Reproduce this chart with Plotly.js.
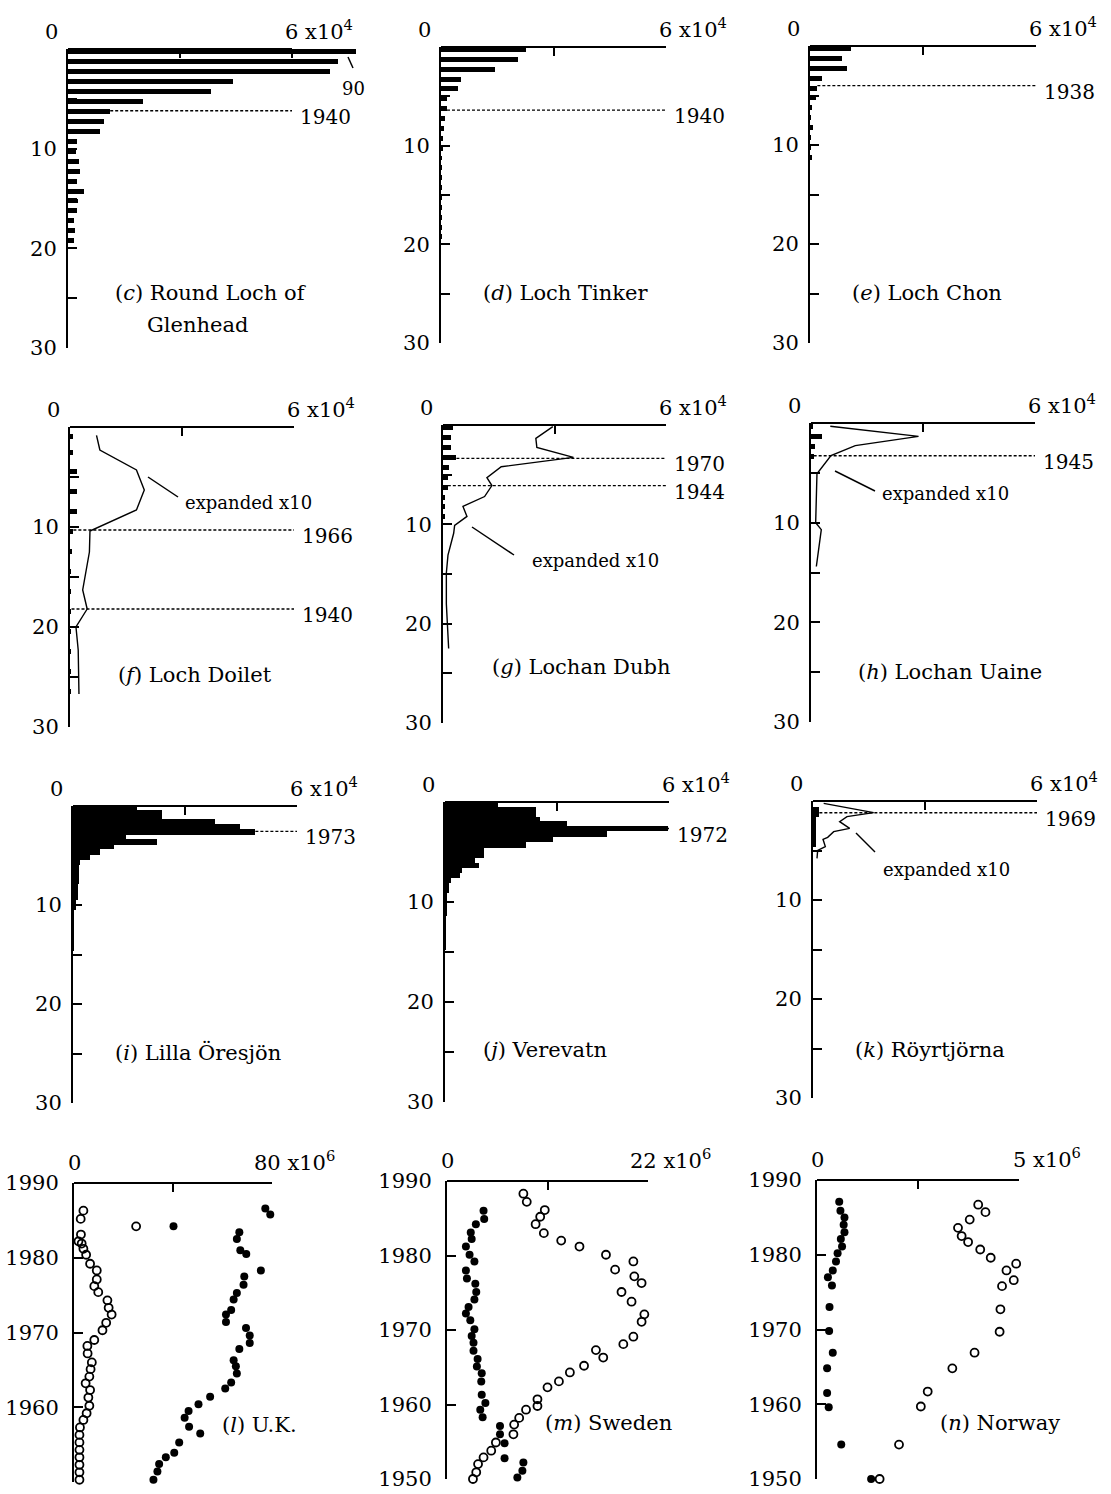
<!DOCTYPE html>
<html>
<head>
<meta charset="utf-8">
<script src="https://cdn.plot.ly/plotly-3.0.1.min.js"></script>
<style>
html,body{margin:0;padding:0;background:#ffffff;}
#chart{width:1111px;height:1494px;}
</style>
</head>
<body>
<div id="chart"></div>
<script>
// ===================== DATA =====================
// Depth profiles: sample top depth (cm) and concentration (x-axis units, 0..6x10^4)

// (c) Round Loch of Glenhead
const cTop  = [0,1,2,3,4,5,6,7,8,9,10,11,12,13,14,15,16,17,18,19];
const cConc = [77200,72300,70100,44200,38200,20100,11300,9600,8500,2400,2100,2900,3100,2400,4200,2700,2500,1500,1800,1500];
const cDateDepth = [6.2];
const cDateYear  = ['1940'];

// (d) Loch Tinker
const dTop  = [0,1,2,3,4,5,6,7,8,9,10,11,12,13,14,15,16,17,18,19];
const dConc = [22700,20400,14500,5200,4500,1600,1600,1000,700,500,450,350,200,150,150,150,150,150,150,150];
const dDateDepth = [6.4];
const dDateYear  = ['1940'];

// (e) Loch Chon
const eTop  = [0,1,2,3,4,5,6,7,8,9,10,11];
const eConc = [10800,8600,9900,3100,1950,1600,600,200,900,200,150,450];
const eDateDepth = [4.0];
const eDateYear  = ['1938'];

// (f) Loch Doilet
const fTop  = [0.7,2.3,4.2,6.2,8.2,10.2,12.2,14.2,16.2,18.2,20.2,22.2,24.2,26.2];
const fConc = [700,700,2000,2000,2000,900,500,400,400,400,300,300,300,300];
const fLineDepth = [0.83,2.3,4.3,6.3,8.3,10.4,12.5,16.3,18.2,20.0,22.3,26.7];
const fLineConc  = [710,800,1780,1990,1780,535,520,340,460,160,220,240];
const fDateDepth = [10.3,18.2];
const fDateYear  = ['1966','1940'];

// (g) Lochan Dubh
const gTop  = [0,1,2,3,4,5,6,7,8,9];
const gConc = [2700,2200,2200,3600,1600,1300,1300,600,600,450];
const gLineDepth = [0.17,1.34,2.25,3.26,4.2,5.3,6.1,7.2,8.2,9.2,10.1,10.9,13.1,14.9,18.0,22.5];
const gLineConc  = [2955,2498,2525,3510,1567,1182,1316,1119,537,645,313,287,134,90,90,152];
const gDateDepth = [3.36,6.1];
const gDateYear  = ['1970','1944'];

// (h) Lochan Uaine
const hTop  = [0.1,1.1,2.1,3.1];
const hConc = [535,2940,1160,713];
const hLineDepth = [0.33,1.34,2.27,3.28,5.1,10.0,10.7,14.4];
const hLineConc  = [517,2880,1186,535,160,125,276,143];
const hDateDepth = [3.28];
const hDateYear  = ['1945'];

// (i) Lilla Öresjön (contiguous slices: edges in cm)
const iEdges = [0,0.44,1.35,1.85,2.36,2.96,3.37,3.9,4.38,4.98,5.49,6.0,7.85,9.5,10.5,11.9,14.6];
const iConc  = [17150,23840,38130,44830,48850,14290,22500,10900,7140,4640,1960,1520,1250,890,360,180];
const iDateDepth = [2.56];
const iDateYear  = ['1973'];

// (j) Verevatn
const jEdges = [0,0.5,1.5,1.93,2.43,2.87,3.53,4.03,4.6,5.6,6.1,6.6,7.1,7.6,8.1,9.1,11.43,14.77];
const jConc  = [14100,24300,25450,32600,59650,43300,28840,21600,10540,8040,9200,4470,4020,1600,1070,450,270];
const jDateDepth = [2.65];
const jDateYear  = ['1972'];

// (k) Röyrtjörna
const kEdges = [0.57,1.58,4.6];
const kConc  = [1700,890];
const kLineDepth = [0.24,0.74,1.18,1.58,2.09,2.76,3.1,3.67,3.87,4.6,5.0,5.8];
const kLineConc  = [286,1000,1625,910,714,982,554,393,268,330,125,107];
const kDateDepth = [1.18];
const kDateYear  = ['1969'];

// Emission histories (x10^6) by year
// (l) U.K.
const ukOpenYear = [1986.3,1985.2,1984.2,1983.1,1982.2,1981.9,1981.2,1980.4,1979.2,1978.3,1977.1,1976.2,1975.4,1974.3,1973.3,1972.4,1971.3,1970.3,1969.0,1968.2,1967.2,1966.0,1965.1,1964.1,1963.2,1962.3,1961.3,1960.2,1959.2,1958.3,1957.3,1956.3,1955.3,1954.3,1953.3,1952.3,1951.3,1950.3];
const ukOpen     = [3.8,2.7,25.1,2.8,1.8,3.1,3.8,4.9,6.5,9.2,9.2,8.2,9.8,13.5,14.0,15.2,13.0,11.5,8.2,5.4,5.5,7.2,6.7,6.2,4.7,6.5,5.8,6.2,5.1,3.8,2.4,2.2,2.2,2.2,2.2,2.2,2.2,2.2];
const ukFilledYear = [1986.6,1985.8,1984.2,1983.4,1982.5,1981.0,1980.5,1979.7,1978.3,1977.5,1976.4,1975.3,1974.4,1973.0,1972.4,1971.4,1970.6,1969.6,1968.6,1967.8,1966.3,1965.5,1964.5,1963.3,1962.5,1961.4,1960.4,1959.5,1958.6,1957.4,1956.5,1955.3,1953.9,1953.3,1952.4,1951.4,1950.3];
const ukFilled     = [77.3,79.3,40.2,66.8,65.8,67.2,69.6,80.3,75.5,68.8,68.5,65.8,64.5,63.5,61.4,61.4,69.5,71.0,71.0,66.8,64.5,65.4,65.8,63.5,61.1,55.0,50.3,46.3,44.7,46.5,51.0,42.5,40.5,37.1,34.4,33.7,32.1];

// (m) Sweden
const seFilledYear = [1986.0,1984.9,1984.2,1983.1,1982.2,1981.2,1980.1,1979.2,1978.0,1976.9,1976.2,1975.1,1974.1,1973.1,1972.2,1971.3,1970.1,1969.2,1968.3,1967.2,1966.1,1965.1,1964.2,1963.1,1961.3,1960.2,1959.3,1958.3,1957.1,1956.0,1954.8,1952.8,1952.2,1951.1,1950.2];
const seFilled     = [4.0,4.07,3.16,2.6,2.7,2.07,2.47,3.0,2.07,2.18,3.1,3.2,3.0,2.36,2.07,2.55,3.0,2.7,2.9,2.9,3.35,3.27,3.8,3.75,3.8,4.2,3.64,3.9,5.8,5.8,6.3,6.3,8.36,8.25,7.7];
const seOpenYear = [1988.3,1987.2,1986.1,1985.2,1984.2,1983.0,1982.0,1981.2,1980.1,1979.2,1978.1,1977.2,1976.3,1975.1,1973.8,1973.3,1972.1,1971.1,1970.1,1969.1,1968.1,1967.3,1966.3,1965.2,1964.3,1963.1,1962.3,1960.7,1959.8,1959.3,1958.2,1957.3,1956.0,1954.9,1953.8,1952.9,1952.0,1950.9,1950.0];
const seOpen     = [8.36,8.73,10.7,10.2,9.7,10.6,12.5,14.5,17.4,20.4,18.4,20.5,21.3,19.1,20.2,22.2,21.6,21.3,23.2,20.4,19.3,16.3,17.1,15.0,13.45,12.25,11.0,9.9,9.9,8.65,7.9,7.35,7.27,5.35,4.84,4.0,3.4,3.2,2.84];

// (n) Norway
const noFilledYear = [1987.1,1985.9,1985.0,1984.0,1983.0,1982.1,1981.1,1980.2,1979.1,1977.9,1977.0,1975.9,1973.0,1969.8,1966.9,1964.8,1961.5,1959.6,1954.6,1950.0];
const noFilled     = [0.55,0.58,0.68,0.66,0.68,0.59,0.62,0.51,0.47,0.39,0.27,0.37,0.31,0.30,0.39,0.25,0.25,0.29,0.60,1.34];
const noOpenYear = [1986.7,1985.7,1984.7,1983.6,1982.5,1981.7,1980.7,1979.6,1978.8,1977.9,1976.6,1975.8,1972.7,1969.7,1966.9,1964.8,1961.7,1959.7,1954.6,1950.0];
const noOpen     = [3.99,4.17,3.78,3.49,3.58,3.74,4.04,4.30,4.93,4.69,4.87,4.58,4.54,4.52,3.90,3.35,2.74,2.57,2.03,1.55];

// Axis ticks
const depthLabelVals = [10,20,30];
const depthLabelText = ['10','20','30'];
const depthMinorVals = [0,5,15,25];
const yearTickVals  = [1950,1960,1970,1980,1990];
const yearTickText  = ['1950','1960','1970','1980','1990'];

// ===================== BUILD =====================
const W = 1111, H = 1494;
const FONT = "DejaVu Serif, Liberation Serif, serif";
const BLACK = '#000000';
const BAR_T = 0.5;     // drawn slice thickness (cm)
const EXPAND = 10;     // "expanded x10" curves
const XMAX = 60000;

const data = [];
const annotations = [];
const shapes = [];
const layout = {
  width: W, height: H,
  margin: {l:0, r:0, t:0, b:0},
  paper_bgcolor: '#ffffff', plot_bgcolor: 'rgba(0,0,0,0)',
  showlegend: false, hovermode: false,
  font: {family: FONT, color: BLACK, size: 21},
  bargap: 0
};

function aid(s){ return s === 1 ? '' : String(s); }
const px = x => x / W;
const py = y => 1 - y / H;
const TICK = {ticks:'inside', ticklen:9, tickwidth:2, tickcolor:BLACK};

// box = [left px, right px (at axis max), top px, bottom px]; xr = displayed range max
function axes(s, box, axMax, xr, yAxis) {
  const id = aid(s);
  const right = box[0] + (box[1] - box[0]) * (xr / axMax);
  layout['xaxis'+id] = Object.assign({}, TICK, {
    domain:[px(box[0]), px(right)], range:[0, xr], side:'top', anchor:'y'+id,
    tickvals:[0, axMax/2, axMax], showticklabels:false, showline:false,
    showgrid:false, zeroline:false, fixedrange:true
  });
  layout['yaxis'+id] = Object.assign({}, TICK, {
    domain:[py(box[3]), py(box[2])], side:'left', anchor:'x'+id,
    showline:true, linewidth:2, linecolor:BLACK,
    showgrid:false, zeroline:false, fixedrange:true,
    tickfont:{family:FONT, size:21, color:BLACK}
  }, yAxis);
  // top axis line from 0 to the axis maximum
  shapes.push({type:'line', xref:'x'+id, yref:'y'+id+' domain', x0:0, x1:axMax, y0:1, y1:1,
    line:{color:BLACK, width:2}});
}

function cornerLabels(s, axMax, maxText, maxShift, zeroCentered, yshift) {
  const id = aid(s);
  annotations.push({xref:'x'+id, yref:'y'+id+' domain', x:0, y:1,
    text:'0', showarrow:false, xanchor: zeroCentered ? 'center' : 'right', yanchor:'bottom',
    xshift: zeroCentered ? 0 : -8, yshift:yshift, font:{family:FONT, size:21, color:BLACK}});
  annotations.push({xref:'x'+id, yref:'y'+id+' domain', x:axMax, y:1,
    text:maxText, showarrow:false, xanchor:'left', yanchor:'bottom',
    xshift:maxShift, yshift:yshift, font:{family:FONT, size:21, color:BLACK}});
}

function depthPanel(s, box, xr, tops, bots, conc, lineDepth, lineConc, dateDepth, dateYear) {
  const id = aid(s);
  axes(s, box, XMAX, xr, {
    range:[30, 0], tickvals:depthLabelVals, ticktext:depthLabelText, ticklabelstandoff:5,
    minor:Object.assign({}, TICK, {tickvals:depthMinorVals, showgrid:false})
  });
  cornerLabels(s, XMAX, '6 x10<sup>4</sup>', -9, false, 3);
  // dotted date horizons, from the end of the slice they fall in out to 6x10^4
  dateDepth.forEach((d, k) => {
    let from = 0;
    tops.forEach((t, b) => { if (d >= t - 0.02 && d <= bots[b] + 0.02) from = Math.max(from, conc[b]); });
    data.push({type:'scatter', mode:'lines', x:[from, XMAX], y:[d, d],
      xaxis:'x'+id, yaxis:'y'+id, line:{color:BLACK, width:1.4, dash:'3px,2px'},
      hoverinfo:'skip'});
    annotations.push({xref:'x'+id, yref:'y'+id, x:XMAX, y:d, text:dateYear[k],
      showarrow:false, xanchor:'left', yanchor:'middle', xshift:6, yshift:-6,
      font:{family:FONT, size:20, color:BLACK}});
  });
  data.push({type:'bar', orientation:'h', x:conc,
    y:tops.map((t, b) => (t + bots[b]) / 2), width:tops.map((t, b) => bots[b] - t),
    base:0, xaxis:'x'+id, yaxis:'y'+id,
    marker:{color:BLACK, line:{width:0}}, hoverinfo:'skip'});
  if (lineDepth) {
    data.push({type:'scatter', mode:'lines', x:lineConc.map(v => v * EXPAND), y:lineDepth,
      xaxis:'x'+id, yaxis:'y'+id, line:{color:BLACK, width:1.4}, hoverinfo:'skip'});
  }
}

function yearPanel(s, box, xmax, maxText, maxShift, openY, openX, fillY, fillX) {
  const id = aid(s);
  axes(s, box, xmax, xmax, {
    range:[1950, 1990], tickvals:yearTickVals, ticktext:yearTickText, ticklabelstandoff:9
  });
  cornerLabels(s, xmax, maxText, maxShift, true, 6);
  data.push({type:'scatter', mode:'markers', x:openX, y:openY, xaxis:'x'+id, yaxis:'y'+id,
    marker:{symbol:'circle-open', size:8, color:BLACK, line:{width:1.8, color:BLACK}},
    hoverinfo:'skip', cliponaxis:false});
  data.push({type:'scatter', mode:'markers', x:fillX, y:fillY, xaxis:'x'+id, yaxis:'y'+id,
    marker:{symbol:'circle', size:8, color:BLACK}, hoverinfo:'skip', cliponaxis:false});
}

const plusT = arr => arr.map(t => t + BAR_T);
const fromEdges = e => [e.slice(0, -1), e.slice(1)];

// Panel boxes in pixels: [left, right(at axis max), top, bottom]
// (c): the three top slices run past 6x10^4, so its x range is widened (axis line still stops at 6x10^4)
depthPanel(1, [68,292,49,348], 80000, cTop, plusT(cTop), cConc, null, null, cDateDepth, cDateYear);
depthPanel(2, [441,666,47,343], XMAX, dTop, plusT(dTop), dConc, null, null, dDateDepth, dDateYear);
depthPanel(3, [810,1036,46,343], XMAX, eTop, plusT(eTop), eConc, null, null, eDateDepth, eDateYear);
depthPanel(4, [70,294,427,727], XMAX, fTop, plusT(fTop), fConc, fLineDepth, fLineConc, fDateDepth, fDateYear);
depthPanel(5, [443,666,425,723], XMAX, gTop, plusT(gTop), gConc, gLineDepth, gLineConc, gDateDepth, gDateYear);
depthPanel(6, [811,1035,423,722], XMAX, hTop, plusT(hTop), hConc, hLineDepth, hLineConc, hDateDepth, hDateYear);
(function(){ const [t,b] = fromEdges(iEdges); depthPanel(7, [73,297,806,1103], XMAX, t, b, iConc, null, null, iDateDepth, iDateYear); })();
(function(){ const [t,b] = fromEdges(jEdges); depthPanel(8, [445,669,802,1102], XMAX, t, b, jConc, null, null, jDateDepth, jDateYear); })();
(function(){ const [t,b] = fromEdges(kEdges); depthPanel(9, [813,1037,801,1098], XMAX, t, b, kConc, kLineDepth, kLineConc, kDateDepth, kDateYear); })();

yearPanel(10, [74,272,1183,1482],  80, '80 x10<sup>6</sup>', -20, ukOpenYear, ukOpen, ukFilledYear, ukFilled);
yearPanel(11, [447,648,1181,1479], 22, '22 x10<sup>6</sup>', -20, seOpenYear, seOpen, seFilledYear, seFilled);
yearPanel(12, [817,1019,1180,1479], 5, '5 x10<sup>6</sup>', -8,  noOpenYear, noOpen, noFilledYear, noFilled);

// Panel captions
const captions = [
  ['(<i>c</i>) Round Loch of', 113, 293], ['Glenhead', 145, 325],
  ['(<i>d</i>) Loch Tinker', 481, 293], ['(<i>e</i>) Loch Chon', 850, 293],
  ['(<i>f</i>) Loch Doilet', 116, 675], ['(<i>g</i>) Lochan Dubh', 490, 667],
  ['(<i>h</i>) Lochan Uaine', 856, 672], ['(<i>i</i>) Lilla Öresjön', 113, 1052],
  ['(<i>j</i>) Verevatn', 481, 1050], ['(<i>k</i>) Röyrtjörna', 853, 1050],
  ['(<i>l</i>) U.K.', 220, 1425], ['(<i>m</i>) Sweden', 543, 1423], ['(<i>n</i>) Norway', 938, 1423]
];
captions.forEach(c => annotations.push({xref:'paper', yref:'paper', x:px(c[1]), y:py(c[2]),
  text:c[0], showarrow:false, xanchor:'left', yanchor:'middle',
  font:{family:FONT, size:21, color:BLACK}}));

// "expanded x10" notes and leader lines
const notes = [[183,503],[530,560],[880,493],[881,869]];
notes.forEach(n => annotations.push({xref:'paper', yref:'paper', x:px(n[0]), y:py(n[1]),
  text:'expanded x10', showarrow:false, xanchor:'left', yanchor:'middle',
  font:{family:FONT, size:18, color:BLACK}}));
annotations.push({xref:'paper', yref:'paper', x:px(353), y:py(89), text:'90', showarrow:false,
  xanchor:'center', yanchor:'middle', font:{family:FONT, size:18, color:BLACK}});
const leaders = [[348,57,353,68],[148,477,178,497],[472,527,514,555],[835,471,875,491],[856,833,875,852]];
leaders.forEach(l => shapes.push({type:'line', xref:'paper', yref:'paper',
  x0:px(l[0]), y0:py(l[1]), x1:px(l[2]), y1:py(l[3]), line:{color:BLACK, width:1.5}}));

layout.annotations = annotations;
layout.shapes = shapes;

Plotly.newPlot('chart', data, layout, {staticPlot:true, displayModeBar:false});
</script>
</body>
</html>
